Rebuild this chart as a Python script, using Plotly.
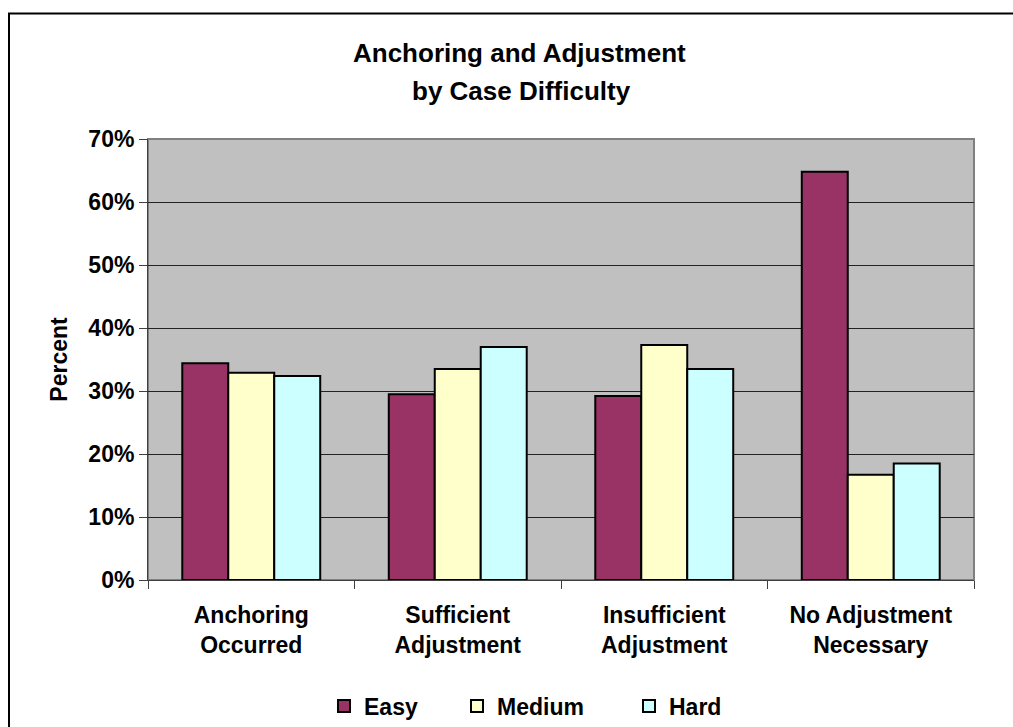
import plotly.graph_objects as go

# Share of cases in each anchoring/adjustment outcome, by case difficulty
categories = ["Anchoring Occurred", "Sufficient Adjustment",
              "Insufficient Adjustment", "No Adjustment Necessary"]
tick_labels = ["Anchoring<br>Occurred", "Sufficient<br>Adjustment",
               "Insufficient<br>Adjustment", "No Adjustment<br>Necessary"]
easy = [0.344, 0.295, 0.292, 0.648]
medium = [0.329, 0.335, 0.373, 0.167]
hard = [0.324, 0.370, 0.335, 0.185]

series = [("Easy", easy, "#993366", "legend2"),
          ("Medium", medium, "#FFFFCC", "legend3"),
          ("Hard", hard, "#CCFFFF", "legend4")]

FONT = "Liberation Sans, Arial, sans-serif"

fig = go.Figure()
for name, vals, color, leg in series:
    fig.add_trace(go.Bar(
        name=name, x=categories, y=vals, legend=leg, showlegend=True,
        marker=dict(color=color, line=dict(color="#000000", width=2)),
    ))

W, H = 1013, 727
L, R, T, B = 148, 39, 139, 147
pw, ph = W - L - R, H - T - B


def px_x(x):
    return (x - L) / pw


def px_y(y):
    return (H - B - y) / ph


legend_common = dict(
    orientation="h", yanchor="middle", xanchor="left",
    xref="paper", yref="paper",
    font=dict(family=FONT, size=23, color="#000000", weight="bold"),
    bgcolor="rgba(0,0,0,0)", borderwidth=0,
)

fig.update_layout(
    width=W, height=H,
    margin=dict(l=L, r=R, t=T, b=B, autoexpand=False),
    paper_bgcolor="#FFFFFF",
    plot_bgcolor="#C0C0C0",
    barmode="group", bargap=0.332, bargroupgap=0,
    font=dict(family=FONT, color="#000000"),
    legend=dict(visible=False),
    legend2=dict(x=px_x(324), y=px_y(706), **legend_common),
    legend3=dict(x=px_x(457), y=px_y(706), **legend_common),
    legend4=dict(x=px_x(629), y=px_y(706), **legend_common),
    xaxis=dict(
        type="category", tickmode="array", tickvals=categories, ticktext=tick_labels,
        tickson="boundaries", ticks="outside", ticklen=8, tickcolor="#404040",
        ticklabelstandoff=14, automargin=False,
        showline=True, linecolor="#404040", linewidth=1,
        tickfont=dict(family=FONT, size=23, color="#000000", weight="bold"),
        showgrid=False,
    ),
    yaxis=dict(
        range=[0, 0.7], dtick=0.1, tickformat=".0%",
        ticks="outside", ticklen=8, tickcolor="#404040", automargin=False,
        showline=True, linecolor="#404040", linewidth=1,
        showgrid=True, gridcolor="#222222", gridwidth=1,
        tickfont=dict(family=FONT, size=23, color="#000000", weight="bold"),
        title=dict(text="Percent", standoff=14,
                   font=dict(family=FONT, size=23, color="#000000", weight="bold")),
        zeroline=False,
    ),
    shapes=[
        # gray frame of the plotting area
        dict(type="rect", xref="paper", yref="paper", x0=0, x1=1, y0=0, y1=1,
             line=dict(color="#808080", width=2), layer="below"),
        # outer chart border
        dict(type="rect", xref="paper", yref="paper",
             x0=px_x(9), x1=px_x(1030), y0=px_y(760), y1=px_y(13.5),
             line=dict(color="#000000", width=2)),
    ],
    annotations=[
        dict(text="Anchoring and Adjustment", xref="paper", yref="paper",
             x=px_x(519), y=px_y(53), showarrow=False, xanchor="center", yanchor="middle",
             font=dict(family=FONT, size=26, color="#000000", weight="bold")),
        dict(text="by Case Difficulty", xref="paper", yref="paper",
             x=px_x(521), y=px_y(91), showarrow=False, xanchor="center", yanchor="middle",
             font=dict(family=FONT, size=26, color="#000000", weight="bold")),
    ],
)

fig.write_html("out.html")
